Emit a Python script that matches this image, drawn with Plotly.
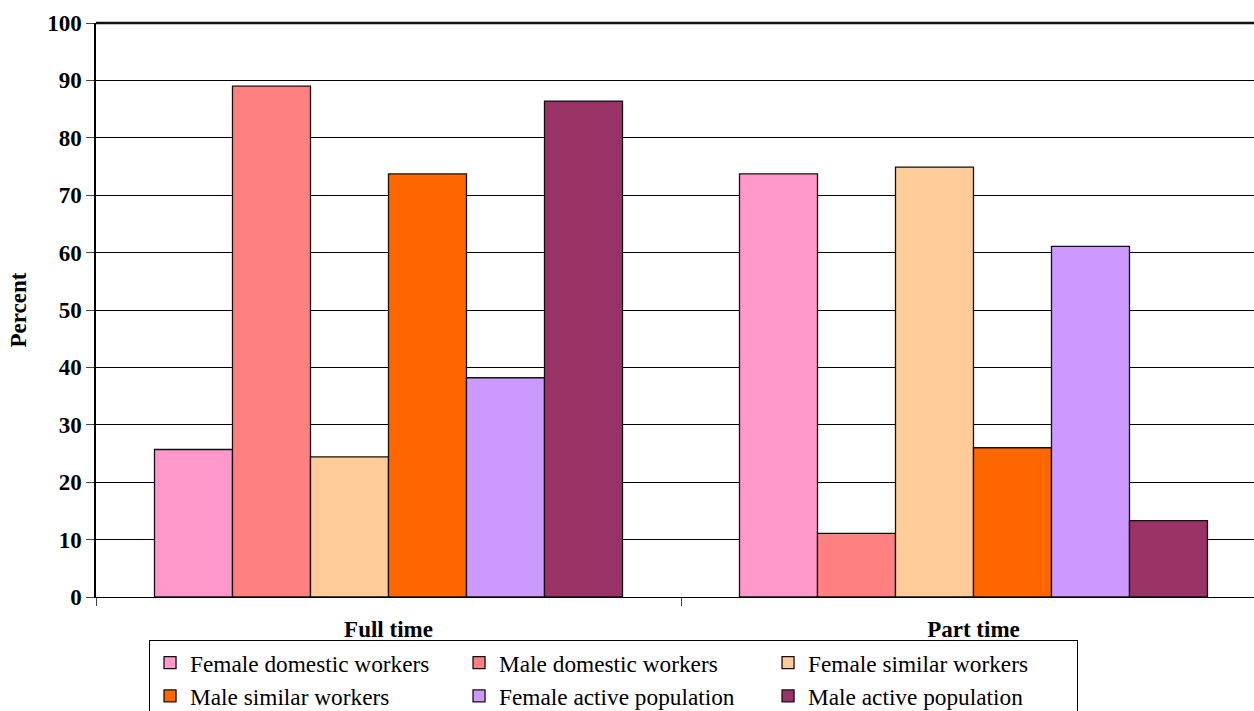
import plotly.graph_objects as go

# Employment type categories
categories = ["Full time", "Part time"]

# Share of each group working full / part time (percent)
series_names = [
    "Female domestic workers",
    "Male domestic workers",
    "Female similar workers",
    "Male similar workers",
    "Female active population",
    "Male active population",
]
female_domestic = [25.7, 73.7]
male_domestic = [89.0, 11.1]
female_similar = [24.4, 74.9]
male_similar = [73.7, 26.0]
female_active = [38.2, 61.1]
male_active = [86.4, 13.3]

y_ticks = [0, 10, 20, 30, 40, 50, 60, 70, 80, 90, 100]

colors = ["#FF99CC", "#FF8080", "#FFCC99", "#FF6600", "#CC99FF", "#993366"]
values = [female_domestic, male_domestic, female_similar,
          male_similar, female_active, male_active]

FONT = "'Liberation Serif', 'Times New Roman', serif"

fig = go.Figure()
for name, vals, col in zip(series_names, values, colors):
    fig.add_trace(go.Bar(
        x=categories, y=vals, name=name,
        marker=dict(color=col, line=dict(color="#111111", width=1.3)),
    ))

fig.update_layout(
    width=1254, height=711,
    margin=dict(l=96, r=0, t=23, b=114, autoexpand=False),
    paper_bgcolor="white", plot_bgcolor="white",
    barmode="group", bargap=0.2, bargroupgap=0,
    font=dict(family=FONT, size=23, color="black"),
    showlegend=True,
    legend=dict(
        orientation="h",
        x=0.0458, xanchor="left",
        y=-0.0749, yanchor="top",
        bgcolor="white", bordercolor="black", borderwidth=1,
        font=dict(family=FONT, size=23.3, color="black"),
        entrywidth=264, entrywidthmode="pixels",
        itemwidth=30,
        traceorder="normal",
    ),
    xaxis=dict(
        type="category",
        range=[-0.5, 1.4795],
        showgrid=False,
        showline=True, linecolor="black", linewidth=1,
        ticks="outside", ticklen=8, tickcolor="#444444", tickwidth=1,
        tickson="boundaries",
        tickfont=dict(family=FONT, size=23, color="black", weight="bold"),
        ticklabelstandoff=11,
        zeroline=False,
    ),
    yaxis=dict(
        range=[0, 100],
        tickvals=y_ticks,
        showgrid=True, gridcolor="black", gridwidth=1,
        showline=True, linecolor="black", linewidth=1.5,
        ticks="outside", ticklen=8, tickcolor="#444444", tickwidth=1,
        tickfont=dict(family=FONT, size=23, color="black", weight="bold"),
        zeroline=False,
        title=dict(text="<b>Percent</b>", font=dict(family=FONT, size=23, color="black"),
                   standoff=14),
    ),
)

# Heavier frame line along the top of the plot area
fig.add_shape(type="line", xref="paper", yref="paper",
              x0=0, x1=1, y0=1, y1=1,
              line=dict(color="#111111", width=2.5))

fig.write_html("out.html")
